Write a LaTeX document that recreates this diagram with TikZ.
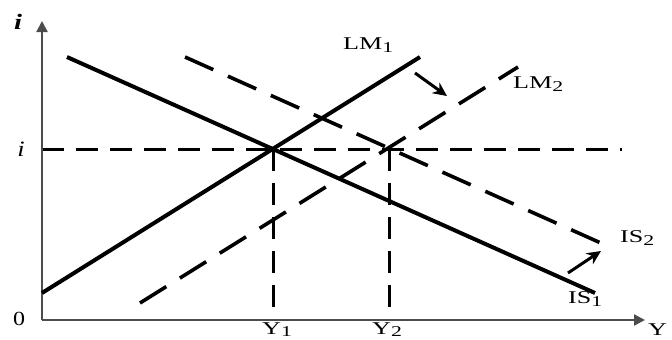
\documentclass[tikz,border=0pt]{standalone}
\usepackage{fontspec}
\setmainfont{Liberation Serif}
\usetikzlibrary{arrows.meta}
\newcommand{\sbs}[1]{\raisebox{-0.4ex}{\fontsize{15}{15}\selectfont #1}}
\newcommand{\sbsl}[1]{\raisebox{-0.25ex}{\fontsize{15}{15}\selectfont #1}}
\newcommand{\widetxt}[1]{\scalebox{1.45}[1]{#1}}
\begin{document}
\begin{tikzpicture}[x=1pt,y=-1pt,
  axis/.style={draw=black!70,line width=2.2pt},
  curve/.style={draw=black,line width=4pt},
  dcurve/.style={draw=black,line width=3.6pt,dash pattern=on 31pt off 16pt},
  guide/.style={draw=black,line width=3pt,dash pattern=on 22pt off 12pt},
  shiftarrow/.style={draw=black,line width=3pt,-{Stealth[length=14pt,width=13pt]}},
  lbl/.style={font=\fontsize{18}{20}\selectfont,inner sep=0pt,anchor=base west}]
\useasboundingbox (0,0) rectangle (672,340);
% coordinates
\coordinate (O) at (42,320);
\coordinate (ytop) at (42,21);
\coordinate (xend) at (645,320);
\coordinate (IS1a) at (67,57);
\coordinate (IS1b) at (595,293);
\coordinate (LM1a) at (42,293);
\coordinate (LM1b) at (420,57);
\coordinate (LM2a) at (140,303);
\coordinate (LM2b) at (518,67);
\coordinate (IS2a) at (185,57);
\coordinate (IS2b) at (612,248);
\coordinate (E1) at (273,149);
\coordinate (E2) at (389,149);
\coordinate (Y1b) at (273,320);
\coordinate (Y2b) at (389,320);
\coordinate (ileft) at (42,149);
\coordinate (iright) at (622,149);
\coordinate (a1s) at (415,73);
\coordinate (a1e) at (447,96);
\coordinate (a2s) at (568,273);
\coordinate (a2e) at (601,251);
% guides
\draw[guide] (ileft) -- (iright);
\draw[guide] (E1) -- (Y1b);
\draw[guide] (E2) -- (Y2b);
% axes
\draw[axis,-{Triangle[length=11pt,width=11pt]}] (O) -- (ytop);
\draw[axis,-{Triangle[length=11pt,width=11pt]}] (O) -- (xend);
% curves
\draw[curve] (IS1a) -- (IS1b);
\draw[curve] (LM1a) -- (LM1b);
\draw[dcurve] (LM2a) -- (LM2b);
\draw[dcurve] (IS2a) -- (IS2b);
% shift arrows
\draw[shiftarrow] (a1s) -- (a1e);
\draw[shiftarrow] (a2s) -- (a2e);
% labels
\node[inner sep=0pt,font=\fontsize{22}{22}\selectfont\bfseries\itshape] (ilab) at (18,22) {\scalebox{1.3}[1]{i}};
\node[inner sep=0pt,font=\fontsize{22}{22}\selectfont\itshape] (ilev) at (21,149) {\scalebox{1.2}[1]{i}};
\node[inner sep=0pt,font=\fontsize{20}{20}\selectfont] (zero) at (19,319) {\scalebox{1.2}[1]{0}};
\node[lbl] (Y1) at (262,334) {\widetxt{Y\sbsl{1}}};
\node[lbl] (Y2) at (372,334) {\widetxt{Y\sbsl{2}}};
\node[lbl] (Y) at (648,335) {\widetxt{Y}};
\node[lbl] (LM1) at (343,49) {\widetxt{LM\sbs{1}}};
\node[lbl] (LM2) at (513,88) {\widetxt{LM\sbs{2}}};
\node[lbl] (IS2) at (620,242) {\widetxt{IS\sbs{2}}};
\node[lbl] (IS1) at (568,303) {\widetxt{IS\sbs{1}}};
\end{tikzpicture}
\end{document}
